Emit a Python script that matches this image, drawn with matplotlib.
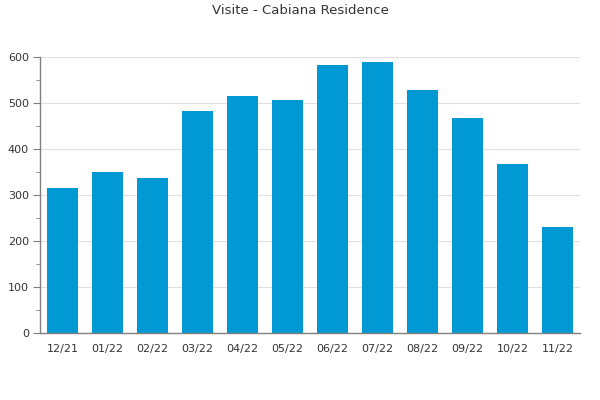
import matplotlib
matplotlib.use("Agg")
import matplotlib.pyplot as plt
from matplotlib.ticker import MultipleLocator

categories = ["12/21", "01/22", "02/22", "03/22", "04/22", "05/22",
              "06/22", "07/22", "08/22", "09/22", "10/22", "11/22"]
visits = [315, 350, 337, 483, 515, 506, 583, 589, 528, 467, 367, 230]

fig = plt.figure(figsize=(6, 4), dpi=100)
ax = fig.add_axes([40/600, 67/400, 540/600, 276/400])
x = list(range(len(categories)))
ax.bar(x, visits, width=0.69, color="#0099d4", zorder=2)
ax.set_xlim(-0.5, len(categories) - 0.5)
ax.set_ylim(0, 600)
ax.set_xticks(x)
ax.set_xticklabels(categories)
ax.yaxis.set_major_locator(MultipleLocator(100))
ax.yaxis.set_minor_locator(MultipleLocator(50))
ax.grid(axis="y", color="#e0e0e0", linewidth=0.8, zorder=0)
for s in ["top", "right"]:
    ax.spines[s].set_visible(False)
for s in ["left", "bottom"]:
    ax.spines[s].set_color("#808080")
    ax.spines[s].set_linewidth(1)
ax.tick_params(axis="x", length=0, pad=8, labelsize=8, labelcolor="#333333")
ax.tick_params(axis="y", which="major", length=5, color="#808080", labelsize=8, labelcolor="#333333", pad=3)
ax.tick_params(axis="y", which="minor", length=3, color="#808080")
fig.text(0.5, 1 - 11/400, "Visite - Cabiana Residence", ha="center", va="center", fontsize=9.5, color="#333333")
fig.savefig("out.png", dpi=100)
